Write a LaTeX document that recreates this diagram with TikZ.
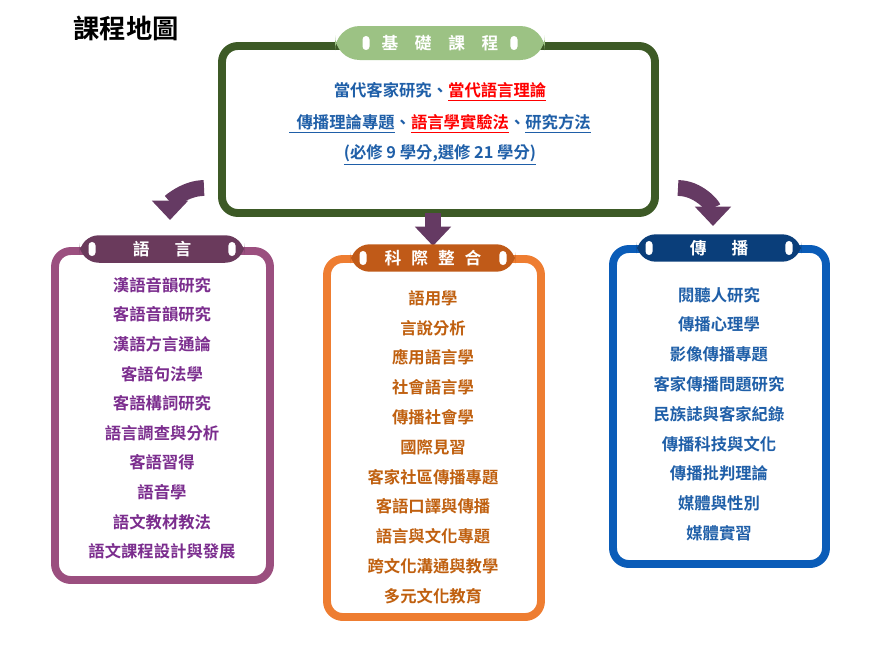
\documentclass[tikz,border=0pt]{standalone}
\usepackage{fontspec}
\setmainfont{Noto Sans CJK TC}[BoldFont={Noto Sans CJK TC Bold}]
\usetikzlibrary{arrows.meta}
\definecolor{basegreen}{HTML}{3D5A26}
\definecolor{tabgreen}{HTML}{9CC284}
\definecolor{langpurple}{HTML}{9B4F7F}
\definecolor{tabpurple}{HTML}{6A3A5C}
\definecolor{txtpurple}{HTML}{7B2D8E}
\definecolor{mixorange}{HTML}{EE7D31}
\definecolor{taborange}{HTML}{C05A18}
\definecolor{txtorange}{HTML}{C0600F}
\definecolor{combblue}{HTML}{0A5CB8}
\definecolor{tabblue}{HTML}{0A3E7A}
\definecolor{txtblue}{HTML}{1F5FA8}
\definecolor{arrowpurple}{HTML}{653A63}
\tikzset{
  frame/.style={line width=4.5pt, rounded corners=9pt, fill=white},
  tab/.style={rounded corners=11pt, draw=none, minimum height=0.46cm, text=white,
    font=\bfseries\fontsize{9.5}{9.5}\selectfont},
  item/.style={font=\bfseries\fontsize{9.3}{11}\selectfont},
  fatarrow/.style={arrowpurple, line width=9pt, -{Triangle[width=20pt,length=11pt]}},
  hole/.style={fill=white, rounded corners=2pt, minimum width=4pt, minimum height=8pt, inner sep=0pt}
}
\newcommand{\tabmarks}[3]{% tab name, half width
  \node[hole] at ([xshift=-#2]#1.center) {};
  \node[hole] at ([xshift=#2]#1.center) {};
}
\begin{document}
\begin{tikzpicture}[x=0.02cm, y=-0.02cm]
  \useasboundingbox (0,0) rectangle (894,654);
  % title
  \node[font=\bfseries\fontsize{15}{15}\selectfont] (title) at (126,28) {課程地圖};

  % base courses
  \draw[frame, draw=basegreen] (222,46) rectangle (655,213);
  \node[tab, fill=tabgreen, minimum width=4.2cm, minimum height=0.68cm, rounded corners=14pt] (basetab) at (440,43) {基\hspace{1em}礎\hspace{1em}課\hspace{1em}程};
  \tabmarks{basetab}{1.48cm}{}
  \node[item, text=txtblue] (base1) at (440,92) {當代客家研究、\textcolor{red}{\underline{當代語言理論}}};
  \node[item, text=txtblue] (base2) at (440,124) {\underline{\ \ 傳播理論專題}、\textcolor{red}{\underline{語言學實驗法}}、\underline{研究方法}};
  \node[item, text=txtblue] (base3) at (440,155) {\underline{(必修 9 學分,選修 21 學分)}};

  % arrows
  \draw[fatarrow] (204,188) to[out=180, in=90] (170,220);
  \draw[fatarrow] (433,213) -- (433,246);
  \draw[fatarrow] (678,188) to[out=0, in=90] (713,226);

  % language
  \draw[frame, draw=langpurple] (55,251) rectangle (270,580);
  \node[tab, fill=tabpurple, minimum width=3.3cm] (langtab) at (162,249) {語\hspace{1.5em}言};
  \tabmarks{langtab}{1.4cm}{}
  \foreach \t [count=\i] in {漢語音韻研究,客語音韻研究,漢語方言通論,客語句法學,客語構詞研究,語言調查與分析,客語習得,語音學,語文教材教法,語文課程設計與發展}
    \node[item, text=txtpurple] (lang\i) at (162,285+29.6*\i-29.6) {\t};

  % interdisciplinary
  \draw[frame, draw=mixorange] (327,259) rectangle (541,617);
  \node[tab, fill=taborange, minimum width=3.3cm] (mixtab) at (433,258) {科\hspace{0.6em}際\hspace{0.6em}整\hspace{0.6em}合};
  \tabmarks{mixtab}{1.4cm}{}
  \foreach \t [count=\i] in {語用學,言說分析,應用語言學,社會語言學,傳播社會學,國際見習,客家社區傳播專題,客語口譯與傳播,語言與文化專題,跨文化溝通與教學,多元文化教育}
    \node[item, text=txtorange] (mix\i) at (433,298+29.8*\i-29.8) {\t};

  % communication
  \draw[frame, draw=combblue] (613,249) rectangle (826,564);
  \node[tab, fill=tabblue, minimum width=3.3cm] (commtab) at (719,248) {傳\hspace{1.5em}播};
  \tabmarks{commtab}{1.4cm}{}
  \foreach \t [count=\i] in {閱聽人研究,傳播心理學,影像傳播專題,客家傳播問題研究,民族誌與客家紀錄,傳播科技與文化,傳播批判理論,媒體與性別,媒體實習}
    \node[item, text=txtblue] (comm\i) at (719,295+29.75*\i-29.75) {\t};
\end{tikzpicture}
\end{document}
